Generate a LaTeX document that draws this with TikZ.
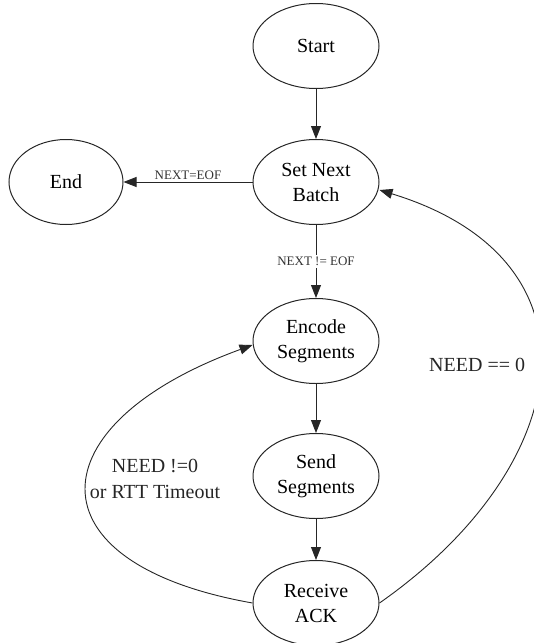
\documentclass[tikz,border=0pt]{standalone}
\usepackage{fontspec}
\setmainfont{Liberation Serif}
\usetikzlibrary{arrows.meta, shapes.geometric}

\begin{document}
\begin{tikzpicture}[
		x=1pt, y=1pt,
		>={Triangle[length=13pt, width=10pt]},
		% State ellipses
		state/.style={
				ellipse, draw=black!85, line width=1pt, inner sep=0pt,
				minimum width=126pt, minimum height=85pt, align=center,
				font=\fontsize{20}{25}\selectfont
			},
		% Arrows
		trans/.style={->, line width=0.9pt, draw=black!85},
		smalllab/.style={font=\fontsize{13}{15}\selectfont, text=black!80, inner sep=2pt},
		biglab/.style={font=\fontsize{20}{26}\selectfont, text=black!85, align=center, inner sep=0pt}
	]
	\useasboundingbox (0,0) rectangle (534,-643);

	% ==========================================
	% 1. MAIN COLUMN (X=316)
	% ==========================================
	\node[state] (start) at (316,-46) {Start};
	\node[state] (setbatch) at (316,-182) {Set Next\\Batch};
	\node[state] (encode) at (316,-341) {Encode\\Segments};
	\node[state] (send) at (316,-476) {Send\\Segments};
	\node[state] (receive) at (316,-603) {Receive\\ACK};

	% ==========================================
	% 2. END STATE (LEFT)
	% ==========================================
	\node[state, minimum width=114pt] (finish) at (66,-182) {End};

	% ==========================================
	% 3. STRAIGHT TRANSITIONS
	% ==========================================
	\draw[trans] (start) -- (setbatch);
	\draw[trans] (setbatch.west) -- node[smalllab, above] {NEXT=EOF} (finish.east);
	\draw[trans] (setbatch) -- node[smalllab, fill=white] {NEXT != EOF} (encode);
	\draw[trans] (encode) -- (send);
	\draw[trans] (send) -- (receive);

	% ==========================================
	% 4. LOOP BACK TRANSITIONS
	% ==========================================
	% Retransmit loop on the left
	\draw[trans] (receive.west) .. controls +(170:230) and +(200:230) .. ([yshift=-4pt]encode.west);
	\node[biglab] (retrylab) at (155,-479) {NEED !=0\\or RTT Timeout};

	% Next batch loop on the right
	\draw[trans] (receive.east) .. controls +(35:240) and +(-17:240) .. ([yshift=-8pt]setbatch.east);
	\node[biglab, anchor=west] (donelab) at (429,-365) {NEED == 0};

\end{tikzpicture}
\end{document}
